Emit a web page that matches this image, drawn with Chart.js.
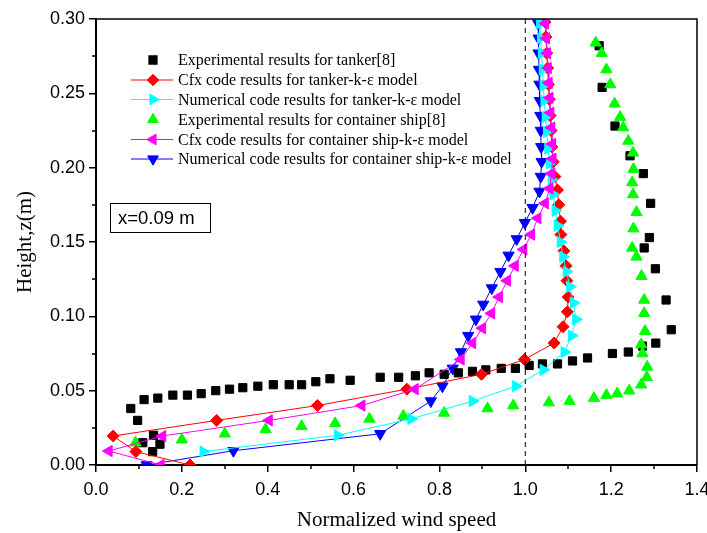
<!DOCTYPE html>
<html>
<head>
<meta charset="utf-8">
<script src="https://cdn.jsdelivr.net/npm/chart.js@4.4.1/dist/chart.umd.min.js"></script>
<style>
  html, body { margin: 0; padding: 0; background: #ffffff; }
  canvas { display: block; }
</style>
</head>
<body>
<canvas id="chart" width="707" height="533"></canvas>
<script>
// Series data (normalized wind speed vs height z in m)
const seriesNames = [
  'Experimental results for tanker[8]',
  'Cfx code results for tanker-k-\u03b5 model',
  'Numerical code results for tanker-k-\u03b5 model',
  'Experimental results for container ship[8]',
  'Cfx code results for container ship-k-\u03b5 model',
  'Numerical code results for container ship-k-\u03b5 model'
];

const tankerExpX = [1.172,1.179,1.209,1.244,1.275,1.292,1.289,1.277,1.303,1.328,1.340,1.304,1.273,1.240,1.203,1.145,1.110,1.075,1.040,1.009,0.977,0.944,0.908,0.877,0.844,0.811,0.776,0.744,0.705,0.662,0.592,0.545,0.512,0.479,0.450,0.413,0.377,0.342,0.311,0.279,0.245,0.213,0.179,0.144,0.112,0.081,0.097,0.134,0.109,0.149,0.132];
const tankerExpY = [0.282,0.254,0.228,0.208,0.196,0.176,0.153,0.146,0.132,0.111,0.091,0.082,0.080,0.076,0.075,0.072,0.070,0.068,0.068,0.067,0.065,0.065,0.064,0.063,0.062,0.061,0.062,0.060,0.059,0.059,0.057,0.058,0.056,0.054,0.054,0.054,0.053,0.052,0.051,0.050,0.048,0.047,0.047,0.045,0.044,0.038,0.030,0.020,0.015,0.014,0.009];

const tankerCfxX = [1.046,1.048,1.050,1.052,1.054,1.056,1.058,1.060,1.062,1.065,1.069,1.075,1.078,1.082,1.083,1.090,1.095,1.097,1.100,1.098,1.088,1.067,0.998,0.898,0.724,0.516,0.281,0.040,0.093,0.219];
const tankerCfxY = [0.298,0.288,0.277,0.267,0.256,0.246,0.235,0.225,0.214,0.204,0.194,0.185,0.175,0.164,0.155,0.144,0.134,0.124,0.113,0.103,0.093,0.082,0.071,0.061,0.051,0.040,0.030,0.0195,0.009,0.0];

const tankerNumX = [1.034,1.036,1.038,1.040,1.042,1.044,1.047,1.050,1.053,1.057,1.061,1.065,1.070,1.075,1.082,1.088,1.096,1.104,1.112,1.118,1.108,1.091,1.042,0.978,0.877,0.734,0.563,0.250];
const tankerNumY = [0.297,0.287,0.277,0.266,0.255,0.245,0.234,0.224,0.213,0.203,0.192,0.182,0.171,0.161,0.150,0.140,0.130,0.120,0.109,0.098,0.087,0.076,0.064,0.053,0.043,0.031,0.020,0.009];

const shipExpX = [1.164,1.178,1.189,1.198,1.208,1.221,1.228,1.240,1.251,1.252,1.249,1.251,1.259,1.252,1.249,1.259,1.271,1.277,1.277,1.279,1.270,1.273,1.284,1.283,1.270,1.242,1.214,1.189,1.160,1.103,1.055,0.972,0.912,0.811,0.716,0.637,0.557,0.479,0.395,0.300,0.200,0.092];
const shipExpY = [0.284,0.277,0.266,0.256,0.243,0.234,0.227,0.218,0.210,0.199,0.190,0.182,0.170,0.159,0.146,0.140,0.127,0.111,0.102,0.090,0.081,0.075,0.066,0.059,0.054,0.050,0.048,0.047,0.045,0.043,0.042,0.040,0.038,0.035,0.033,0.031,0.028,0.026,0.024,0.021,0.017,0.015];

const shipCfxX = [1.047,1.049,1.051,1.053,1.055,1.057,1.059,1.061,1.063,1.064,1.061,1.057,1.046,1.029,1.014,0.996,0.976,0.958,0.939,0.921,0.900,0.877,0.850,0.743,0.619,0.403,0.155,0.030,0.151];
const shipCfxY = [0.297,0.287,0.277,0.267,0.257,0.247,0.237,0.227,0.216,0.206,0.196,0.186,0.176,0.166,0.155,0.145,0.134,0.124,0.113,0.102,0.092,0.082,0.071,0.051,0.040,0.030,0.0195,0.0094,0.0];

const shipNumX = [1.030,1.031,1.031,1.032,1.033,1.034,1.035,1.036,1.037,1.038,1.036,1.033,1.017,0.999,0.980,0.961,0.942,0.922,0.902,0.885,0.867,0.850,0.831,0.807,0.780,0.662,0.320,0.118];
const shipNumY = [0.297,0.287,0.277,0.266,0.256,0.245,0.235,0.225,0.214,0.204,0.194,0.184,0.173,0.163,0.152,0.141,0.130,0.119,0.108,0.098,0.087,0.076,0.065,0.053,0.043,0.021,0.0096,0.0];

const refLineX = [1.0, 1.0];
const refLineY = [0.0, 0.30];

const xTicks = [0.0, 0.2, 0.4, 0.6, 0.8, 1.0, 1.2, 1.4];
const yTicks = [0.00, 0.05, 0.10, 0.15, 0.20, 0.25, 0.30];
const annotationText = 'x=0.09 m';

const toPoints = (xs, ys) => xs.map((x, i) => ({ x: x, y: ys[i] }));

// marker look per series; z = drawing order (higher drawn first)
const looks = [
  { color: '#000000', style: 'rect',     rot: 0,   r: 5.8, line: false, z: 6 },
  { color: '#ff0000', style: 'rectRot',  rot: 0,   r: 6,   line: true,  z: 4 },
  { color: '#00ffff', style: 'triangle', rot: 90,  r: 6.5, line: true,  z: 3 },
  { color: '#00ff00', style: 'triangle', rot: 0,   r: 6.5, line: false, z: 5 },
  { color: '#ff00ff', style: 'triangle', rot: 270, r: 6.5, line: true,  z: 2 },
  { color: '#0000ff', style: 'triangle', rot: 180, r: 6.5, line: true,  z: 7 }
];
const seriesData = [
  toPoints(tankerExpX, tankerExpY),
  toPoints(tankerCfxX, tankerCfxY),
  toPoints(tankerNumX, tankerNumY),
  toPoints(shipExpX, shipExpY),
  toPoints(shipCfxX, shipCfxY),
  toPoints(shipNumX, shipNumY)
];

const datasets = seriesData.map((pts, i) => ({
  label: seriesNames[i],
  data: pts,
  showLine: looks[i].line,
  borderColor: looks[i].color,
  backgroundColor: looks[i].color,
  borderWidth: 1,
  pointStyle: looks[i].style,
  pointRotation: looks[i].rot,
  pointRadius: looks[i].r,
  pointBorderWidth: 1,
  pointHoverRadius: looks[i].r,
  order: looks[i].z
}));

datasets.push({
  label: 'ref',
  data: toPoints(refLineX, refLineY),
  showLine: true,
  borderColor: '#000000',
  borderWidth: 1,
  borderDash: [5, 4],
  pointRadius: 0,
  order: 0
});

// frame, minor ticks, legend and note box
const decorPlugin = {
  id: 'decor',
  afterDraw(chart) {
    const ctx = chart.ctx;
    const area = chart.chartArea;
    const xs = chart.scales.x;
    const ys = chart.scales.y;
    ctx.save();
    ctx.strokeStyle = '#000';
    ctx.lineWidth = 1.5;
    ctx.beginPath();
    ctx.moveTo(area.left, area.top);
    ctx.lineTo(area.right, area.top);
    ctx.lineTo(area.right, area.bottom);
    ctx.stroke();

    // minor ticks
    ctx.beginPath();
    for (let v = 0.1; v < 1.4; v += 0.2) {
      const px = Math.round(xs.getPixelForValue(v));
      ctx.moveTo(px, area.bottom);
      ctx.lineTo(px, area.bottom + 4);
    }
    for (let v = 0.025; v < 0.3; v += 0.05) {
      const py = Math.round(ys.getPixelForValue(v));
      ctx.moveTo(area.left, py);
      ctx.lineTo(area.left - 4, py);
    }
    ctx.stroke();

    // legend
    const lx0 = 131, lx1 = 173, mx = 153, tx = 178;
    const rowY = [60, 80, 99.5, 119.5, 139.5, 159];
    ctx.font = '16px "Liberation Serif", "Times New Roman", serif';
    ctx.textBaseline = 'middle';
    looks.forEach((lk, i) => {
      const y = rowY[i];
      ctx.strokeStyle = lk.color;
      ctx.fillStyle = lk.color;
      if (lk.line) {
        ctx.lineWidth = 1;
        ctx.beginPath();
        ctx.moveTo(lx0, y);
        ctx.lineTo(lx1, y);
        ctx.stroke();
      }
      Chart.helpers.drawPoint(ctx, { pointStyle: lk.style, rotation: lk.rot, radius: lk.r * 0.95, borderWidth: 1 }, mx, y);
      ctx.fillStyle = '#000';
      ctx.fillText(seriesNames[i], tx, y + 1);
    });

    // note box
    ctx.strokeStyle = '#000';
    ctx.lineWidth = 1;
    ctx.strokeRect(110.5, 203.5, 100, 29);
    ctx.fillStyle = '#000';
    ctx.font = '18.5px "Liberation Sans", Arial, sans-serif';
    ctx.textBaseline = 'middle';
    ctx.fillText(annotationText, 118, 218.5);
    ctx.restore();
  }
};

const tickFont = { family: '"Liberation Sans", Arial, sans-serif', size: 18 };
const titleFont = { family: '"Liberation Serif", "Times New Roman", serif', size: 21 };

new Chart(document.getElementById('chart'), {
  type: 'scatter',
  data: { datasets: datasets },
  options: {
    responsive: false,
    devicePixelRatio: 1,
    animation: false,
    events: [],
    layout: { padding: { top: 19, right: 10, bottom: 0, left: 0 } },
    plugins: {
      legend: { display: false },
      tooltip: { enabled: false }
    },
    scales: {
      x: {
        type: 'linear',
        min: 0,
        max: 1.4,
        afterBuildTicks: (s) => { s.ticks = xTicks.map(v => ({ value: v })); },
        afterFit: (s) => { s.paddingLeft = 0; s.paddingRight = 0; s.height = 68; },
        ticks: {
          color: '#000',
          font: tickFont,
          padding: 7,
          maxRotation: 0,
          callback: (v) => Number(v).toFixed(1)
        },
        grid: { drawOnChartArea: false, drawTicks: true, tickLength: 7, color: '#000', lineWidth: 1.5 },
        border: { display: true, color: '#000', width: 2 },
        title: {
          display: true,
          text: 'Normalized wind speed',
          color: '#000',
          font: titleFont,
          padding: { top: 0, bottom: 0 }
        }
      },
      y: {
        type: 'linear',
        min: 0,
        max: 0.30,
        afterBuildTicks: (s) => { s.ticks = yTicks.map(v => ({ value: v })); },
        afterFit: (s) => { s.width = 96; },
        ticks: {
          color: '#000',
          font: tickFont,
          padding: 4,
          callback: (v) => Number(v).toFixed(2)
        },
        grid: { drawOnChartArea: false, drawTicks: true, tickLength: 7, color: '#000', lineWidth: 1.5 },
        border: { display: true, color: '#000', width: 2 },
        title: {
          display: true,
          text: 'Height,z(m)',
          color: '#000',
          font: titleFont,
          padding: { top: 13, bottom: 0 }
        }
      }
    }
  },
  plugins: [decorPlugin]
});
</script>
</body>
</html>
